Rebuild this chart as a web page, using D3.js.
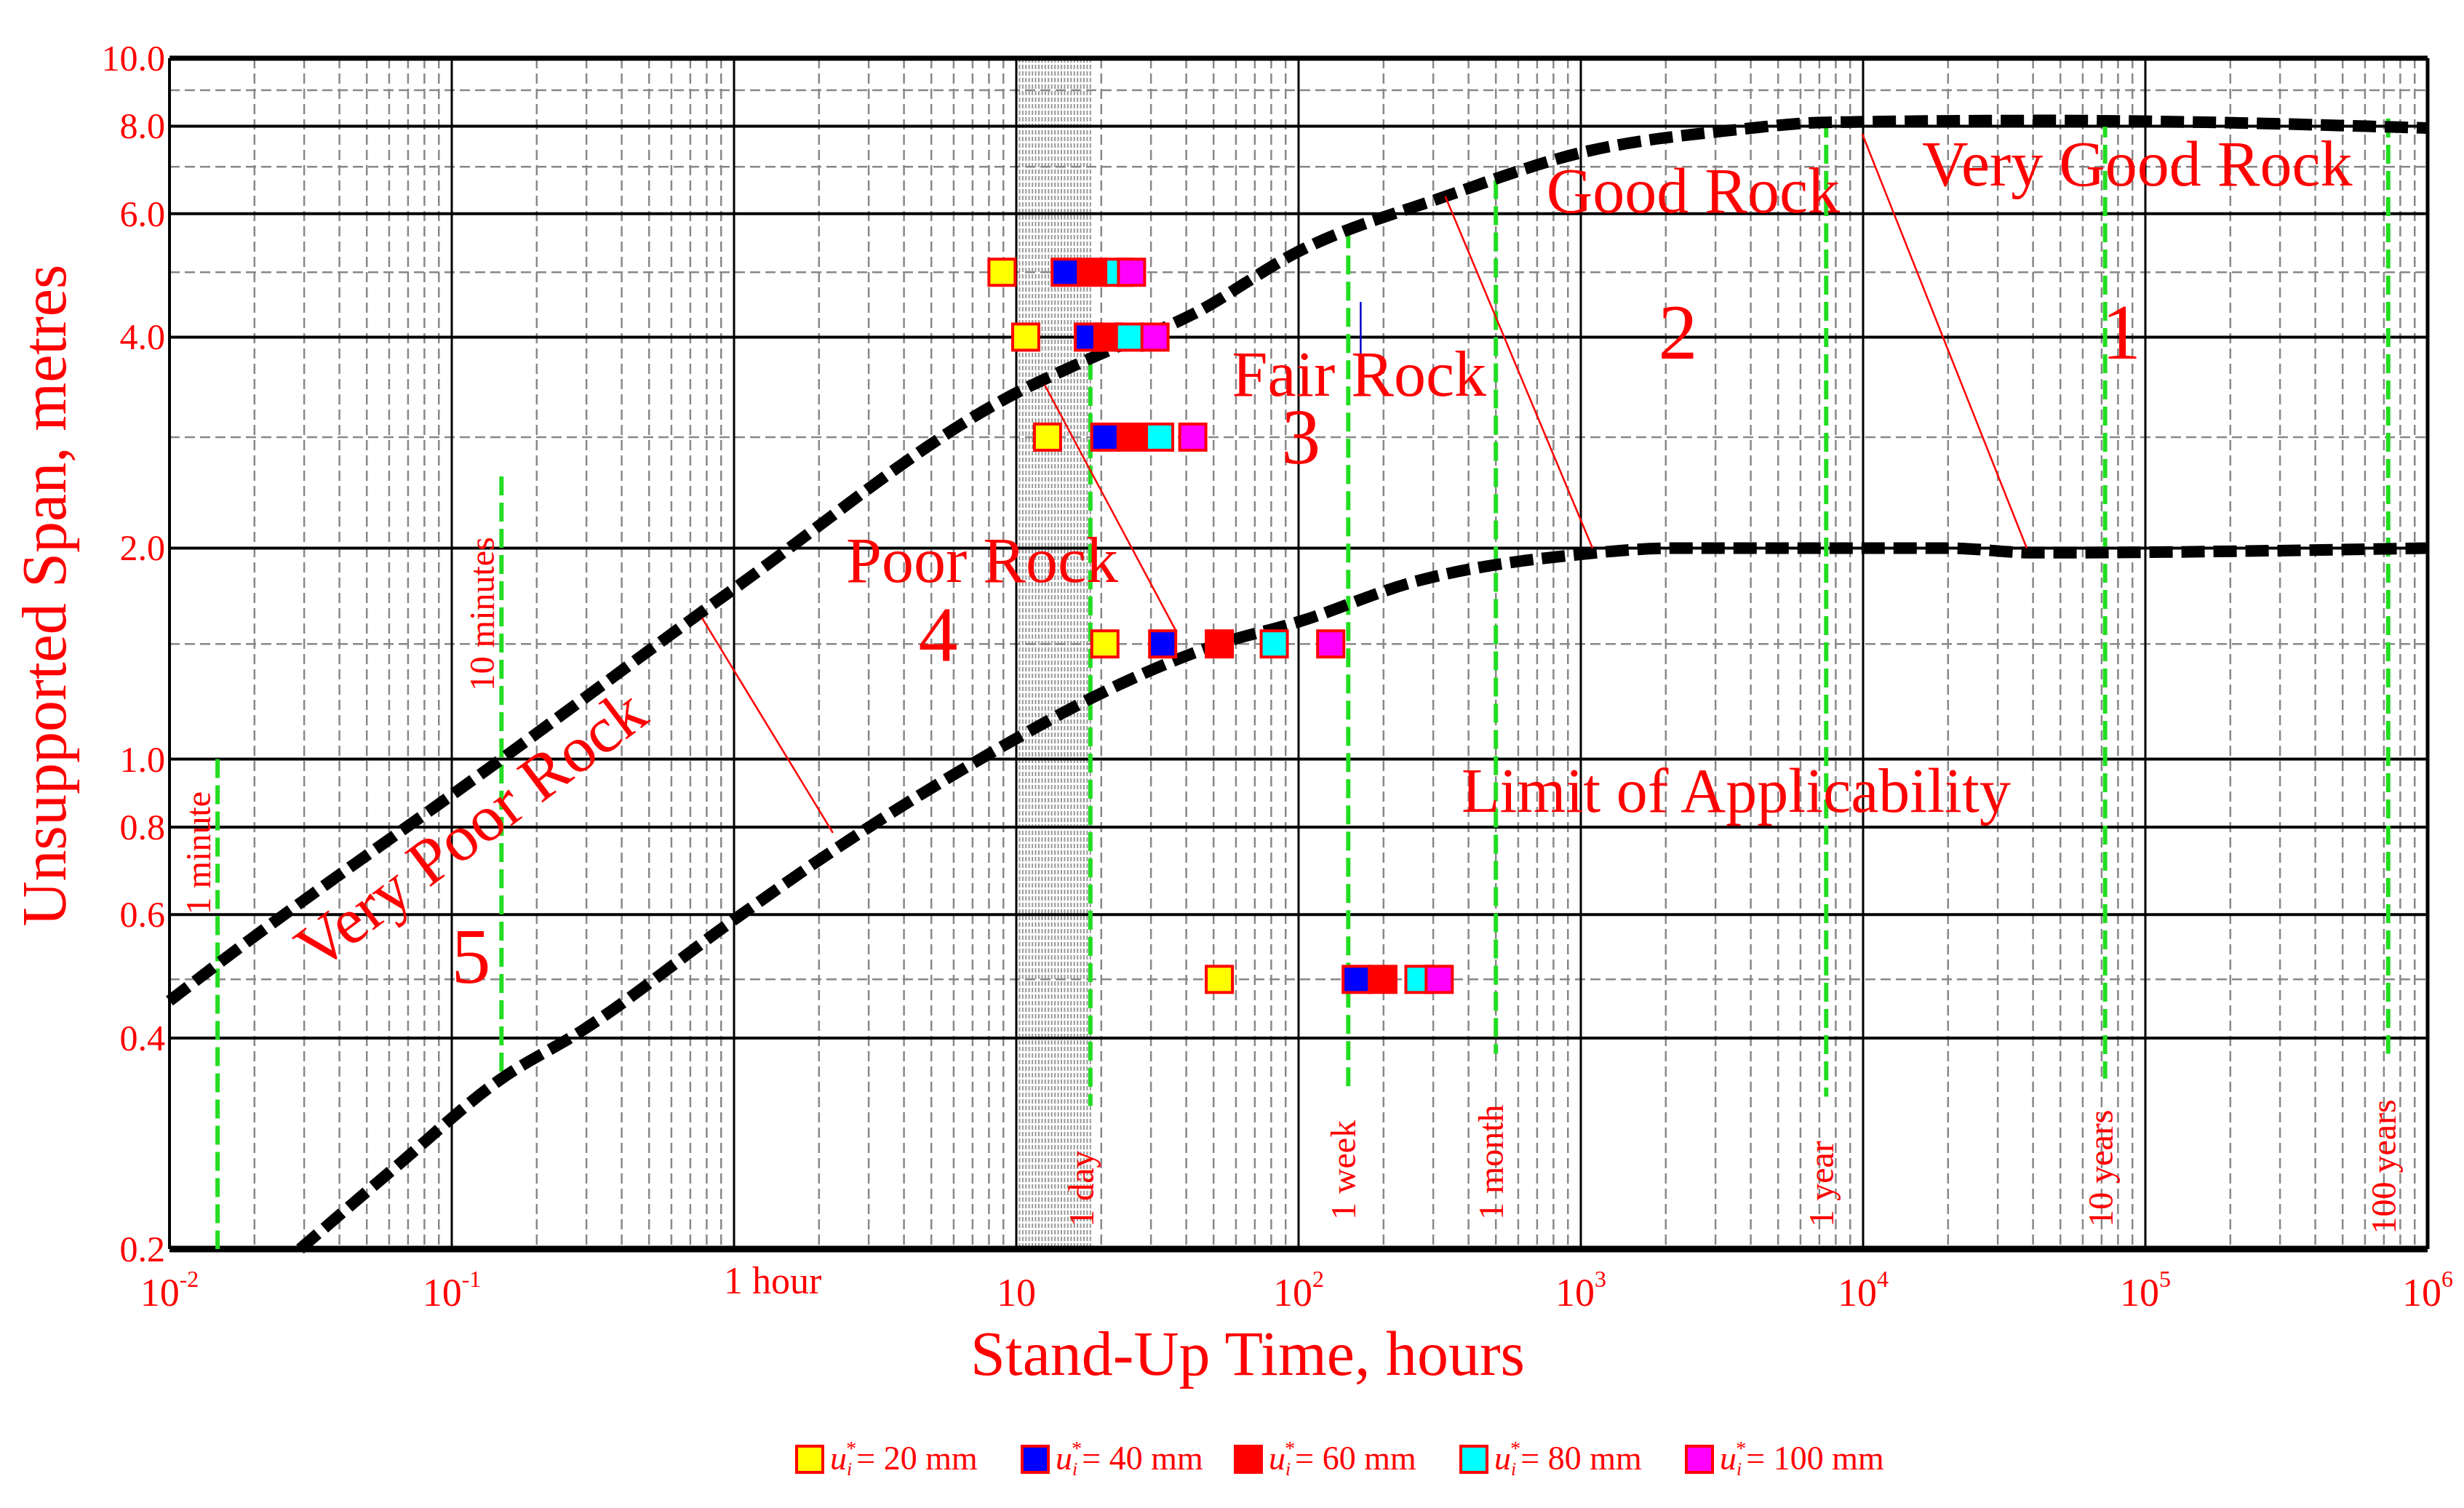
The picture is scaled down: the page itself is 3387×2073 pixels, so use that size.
<!DOCTYPE html>
<html><head><meta charset="utf-8">
<script src="https://cdn.jsdelivr.net/npm/d3@7"></script>
<style>body{margin:0;background:#fff}text{font-family:"Liberation Serif","DejaVu Serif",serif}</style>
</head><body><svg id="c" width="3387" height="2073"></svg>
<script>
const yMajor=[10,8,6,4,2,1,0.8,0.6,0.4,0.2];
const yMinor=[9,7,4.95,2.88,1.46,0.485];
const xDecades=[-2,-1,0,1,2,3,4,5,6];
const xLabels=["10|-2","10|-1","1 hour","10|","10|2","10|3","10|4","10|5","10|6"];
const upperX=[0.01,0.0148,0.15,1,10,18.3,42.6,100,331,1000,3500,7400,44000,1e6];
const upperY=[0.452,0.51,1.0,1.75,3.33,3.73,4.32,5.3,6.35,7.33,7.9,8.1,8.15,7.95];
const lowerX=[0.029,0.062,0.15,0.29,1,2.24,10,18.3,52.4,100,256,1000,2200,20000,40000,1e6];
const lowerY=[0.2,0.26,0.35,0.41,0.59,0.74,1.07,1.22,1.46,1.57,1.79,1.96,2.0,2.0,1.97,2.0];
const markerNames=["20 mm","40 mm","60 mm","80 mm","100 mm"];
const markerColors=["#ffff00","#0000ff","#ff0000","#00ffff","#ff00ff"];
const rowSpan=[4.95,4,2.88,1.46,0.485];
const rowTimes=[[8.9,14.9,18.5,23.1,25.6],[10.8,18.0,21.1,25.2,31.0],[12.9,20.6,25.6,32.2,42.2],[20.6,33,52.4,82,130],[52.4,160,199,267,315]];
const timeNames=["1 minute","10 minutes","1 day","1 week","1 month","1 year","10 years","100 years"];
const timeX=[0.0148,0.15,18.3,150,500,7400,72000,725000];
const timeTop=[1.0,2.53,3.7,5.7,6.7,8.2,8.2,8.2];
const timeBot=[0.2,0.347,0.32,0.34,0.38,0.33,0.35,0.38];
const timeLabelBase=[0.6,1.25,0.215,0.22,0.22,0.215,0.215,0.21];
const timeLabelDx=[-26,-26,-12,-6,-6,-6,-6,-6];
const leaderX1=[0.77,12.6,331,9930];const leaderY1=[1.59,3.42,6.35,7.8];
const leaderX2=[2.24,36.6,1100,38000];const leaderY2=[0.785,1.53,2.0,2.0];
const labels=["Very Good Rock","Good Rock","2","1","Fair Rock","3","Poor Rock","4","Very Poor Rock","5","Limit of Applicability"];
const labelX=[93600,2500,2210,82200,164,102,7.57,5.28,0.13,0.117,3550];
const labelY=[6.58,6.03,3.73,3.73,3.3,2.64,1.79,1.38,0.75,0.48,0.84];
const labelSize=[88,88,108,108,88,108,88,108,90,108,86];
const labelRot=[0,0,0,0,0,0,0,0,-37,0,0];

const svg=d3.select("#c");
const L=233,R=3337,T=80,B=1717;
const x=d3.scaleLog().domain([0.01,1e6]).range([L,R]);
const y=d3.scaleLog().domain([0.2,10]).range([B,T]);
const red="#ff0000",green="#22dd22";
const g=svg.append("g");
const xMinorVals=[];xDecades.slice(0,-1).forEach(d=>{for(let k=2;k<=9;k++)xMinorVals.push(k*Math.pow(10,d));});
g.selectAll(".xm").data(xMinorVals).join("line").attr("x1",d=>x(d)).attr("x2",d=>x(d)).attr("y1",T).attr("y2",B).attr("stroke","#888").attr("stroke-width",2.5).attr("stroke-dasharray","14,7");
g.selectAll(".hb").data(d3.range(0,24).map(i=>Math.pow(10,1+i*(Math.log10(18.3)-1)/23))).join("line").attr("x1",d=>x(d)).attr("x2",d=>x(d)).attr("y1",T).attr("y2",B).attr("stroke","#999").attr("stroke-width",2).attr("stroke-dasharray","6,3");
g.selectAll(".ym").data(yMinor).join("line").attr("x1",L).attr("x2",R).attr("y1",d=>y(d)).attr("y2",d=>y(d)).attr("stroke","#888").attr("stroke-width",2.5).attr("stroke-dasharray","14,7");
g.selectAll(".xM").data(xDecades).join("line").attr("x1",d=>x(Math.pow(10,d))).attr("x2",d=>x(Math.pow(10,d))).attr("y1",T).attr("y2",B).attr("stroke","#000").attr("stroke-width",3);
g.selectAll(".yM").data(yMajor).join("line").attr("x1",L).attr("x2",R).attr("y1",d=>y(d)).attr("y2",d=>y(d)).attr("stroke","#000").attr("stroke-width",4);
g.append("line").attr("x1",L).attr("x2",R).attr("y1",T).attr("y2",T).attr("stroke","#000").attr("stroke-width",7);
g.append("line").attr("x1",L).attr("x2",R).attr("y1",B).attr("y2",B).attr("stroke","#000").attr("stroke-width",9);
g.append("line").attr("x1",L).attr("x2",L).attr("y1",T).attr("y2",B).attr("stroke","#000").attr("stroke-width",4);
g.append("line").attr("x1",R).attr("x2",R).attr("y1",T).attr("y2",B).attr("stroke","#000").attr("stroke-width",5);
g.selectAll(".yl").data(yMajor).join("text").attr("x",L-6).attr("y",d=>y(d)+17).attr("text-anchor","end").attr("font-size",50).attr("fill",red).text(d=>d.toFixed(1));
xDecades.forEach((d,i)=>{const [base,sup]=xLabels[i].split("|");const px=x(Math.pow(10,d));
 if(sup===undefined){g.append("text").attr("x",px-14).attr("y",1778).attr("font-size",52).attr("fill",red).text(base);return;}
 const t=g.append("text").attr("x",px).attr("y",1795).attr("text-anchor","middle").attr("font-size",54).attr("fill",red);
 t.append("tspan").text(base);if(sup)t.append("tspan").attr("dy",-26).attr("font-size",32).text(sup);});
timeX.forEach((v,i)=>{g.append("line").attr("x1",x(v)).attr("x2",x(v)).attr("y1",y(timeTop[i])).attr("y2",y(timeBot[i])).attr("stroke",green).attr("stroke-width",6).attr("stroke-dasharray","26,10");
 g.append("text").attr("transform",`translate(${x(v)+timeLabelDx[i]+16},${y(timeLabelBase[i])}) rotate(-90)`).attr("font-size",48).attr("fill",red).text(timeNames[i]);});
const line=d3.line().x(d=>x(d[0])).y(d=>y(d[1])).curve(d3.curveMonotoneX);
[[upperX,upperY],[lowerX,lowerY]].forEach(([xs,ys])=>{g.append("path").attr("d",line(xs.map((v,i)=>[v,ys[i]]))).attr("fill","none").attr("stroke","#000").attr("stroke-width",16).attr("stroke-dasharray","32,12");});
leaderX1.forEach((v,i)=>g.append("line").attr("x1",x(v)).attr("y1",y(leaderY1[i])).attr("x2",x(leaderX2[i])).attr("y2",y(leaderY2[i])).attr("stroke",red).attr("stroke-width",2.5));
g.append("line").attr("x1",x(166)).attr("x2",x(166)).attr("y1",y(4.49)).attr("y2",y(3.5)).attr("stroke","#0000cc").attr("stroke-width",2.5);
const S=36;
rowSpan.forEach((s,r)=>rowTimes[r].forEach((t,k)=>{g.append("rect").attr("x",x(t)-S/2).attr("y",y(s)-S/2).attr("width",S).attr("height",S).attr("fill",markerColors[k]).attr("stroke",red).attr("stroke-width",4);}));
labels.forEach((t,i)=>g.append("text").attr("transform",`translate(${x(labelX[i])},${y(labelY[i])}) rotate(${labelRot[i]})`).attr("text-anchor","middle").attr("font-size",labelSize[i]).attr("fill",red).text(t));
g.append("text").attr("x",(L+R)/2-70).attr("y",1890).attr("text-anchor","middle").attr("font-size",86).attr("fill",red).text("Stand-Up Time, hours");
g.append("text").attr("transform",`translate(90,${(T+B)/2-80}) rotate(-90)`).attr("text-anchor","middle").attr("font-size",86).attr("fill",red).text("Unsupported Span, metres");
const legX=[1095,1405,1698,2008,2318];
markerNames.forEach((n,i)=>{const lx=legX[i];
 g.append("rect").attr("x",lx).attr("y",1988).attr("width",36).attr("height",36).attr("fill",markerColors[i]).attr("stroke",red).attr("stroke-width",4);
 const t=g.append("text").attr("x",lx+46).attr("y",2020).attr("font-size",46).attr("fill",red);
 t.append("tspan").attr("font-style","italic").text("u");
 t.append("tspan").attr("font-size",26).attr("font-style","italic").attr("dy",8).text("i");
 t.append("tspan").attr("font-size",28).attr("dx",-8).attr("dy",-28).text("*");
 t.append("tspan").attr("dy",20).text("= "+n);});
</script></body></html>
